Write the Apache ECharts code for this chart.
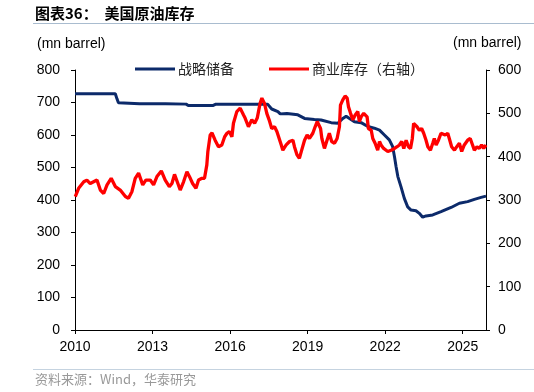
<!DOCTYPE html>
<html>
<head>
<meta charset="utf-8">
<script src="https://cdn.jsdelivr.net/npm/echarts@6/dist/echarts.min.js"></script>
<style>
html,body{margin:0;padding:0;background:#fff;}
#chart{width:534px;height:392px;}
</style>
</head>
<body>
<div id="chart"></div>
<script>
// Category labels / ticks
const xTickYears = [2010, 2013, 2016, 2019, 2022, 2025];
const seriesNames = ['战略储备', '商业库存（右轴）'];

// Strategic petroleum reserve (left axis, mn barrel)
const sprYears = [2010.0, 2011.56, 2011.62, 2011.68, 2011.75, 2012.5, 2013.5, 2014.3, 2014.38, 2015.35, 2015.45, 2016.5, 2017.45, 2017.61, 2017.85, 2017.94,
  2018.2, 2018.62, 2018.88, 2019.26, 2019.52, 2019.91, 2020.17, 2020.36, 2020.49, 2020.62, 2020.81, 2021.07, 2021.33, 2021.58, 2021.78, 2021.97,
  2022.16, 2022.29, 2022.36, 2022.42, 2022.49, 2022.61, 2022.74, 2022.87, 2023.0, 2023.19, 2023.32, 2023.45, 2023.58, 2023.84, 2024.16, 2024.55,
  2024.87, 2025.19, 2025.45, 2025.71, 2025.9];
const sprValues = [727, 727, 712, 699, 697, 696, 696, 695, 691, 691, 695, 695, 695, 680, 672, 665,
  666, 662, 651, 648, 646, 638, 636, 651, 658, 651, 641, 638, 626, 621, 615, 600,
  585, 564, 533, 503, 472, 441, 405, 379, 369, 367, 359, 347, 351, 354, 364, 377,
  390, 395, 402, 408, 412];

// Commercial crude inventory (right axis, mn barrel)
const comYears = [2010.01, 2010.14, 2010.34, 2010.46, 2010.59, 2010.72, 2010.85, 2010.98, 2011.11, 2011.24, 2011.40, 2011.56, 2011.75, 2011.95,
  2012.07, 2012.20, 2012.33, 2012.46, 2012.62, 2012.74, 2012.91, 2013.04, 2013.17, 2013.34, 2013.49, 2013.65, 2013.75, 2013.85, 2013.98,
  2014.07, 2014.20, 2014.33, 2014.46, 2014.55, 2014.68, 2014.78, 2014.91, 2015.01, 2015.10, 2015.14, 2015.23, 2015.30, 2015.42, 2015.55,
  2015.68, 2015.79, 2015.88, 2015.97, 2016.07, 2016.13, 2016.26, 2016.39, 2016.52, 2016.58, 2016.71, 2016.84, 2016.95, 2017.05, 2017.16,
  2017.23, 2017.33, 2017.42, 2017.51, 2017.61, 2017.72, 2017.81, 2017.87, 2017.98, 2018.04, 2018.17, 2018.30, 2018.43, 2018.49, 2018.59,
  2018.68, 2018.77, 2018.88, 2018.98, 2019.07, 2019.20, 2019.29, 2019.37, 2019.42, 2019.50, 2019.55, 2019.65, 2019.75, 2019.84, 2019.93,
  2020.04, 2020.14, 2020.23, 2020.27, 2020.36, 2020.45, 2020.53, 2020.58, 2020.66, 2020.75, 2020.84, 2020.94, 2021.00, 2021.07, 2021.17,
  2021.22, 2021.30, 2021.35, 2021.46, 2021.52, 2021.61, 2021.71, 2021.78, 2021.84, 2021.94, 2022.10, 2022.23, 2022.36, 2022.46, 2022.55,
  2022.64, 2022.72, 2022.81, 2022.90, 2022.98, 2023.05, 2023.10, 2023.17, 2023.23, 2023.32, 2023.41, 2023.49, 2023.58, 2023.65, 2023.75,
  2023.84, 2023.90, 2023.97, 2024.06, 2024.16, 2024.23, 2024.32, 2024.42, 2024.48, 2024.57, 2024.68, 2024.77, 2024.87, 2024.96, 2025.06,
  2025.19, 2025.29, 2025.38, 2025.45, 2025.55, 2025.64, 2025.73, 2025.81, 2025.90];
const comValues = [308, 327, 342, 346, 338, 342, 346, 323, 315, 335, 350, 331, 323, 308,
  304, 319, 350, 362, 335, 346, 346, 335, 354, 367, 346, 331, 338, 359, 338,
  323, 342, 365, 350, 338, 327, 346, 350, 350, 381, 412, 450, 455, 438, 423,
  427, 446, 454, 458, 446, 477, 504, 512, 496, 489, 469, 485, 477, 489, 523,
  535, 523, 500, 485, 465, 469, 458, 454, 427, 415, 427, 435, 438, 423, 404,
  396, 415, 438, 450, 442, 454, 469, 481, 485, 465, 442, 419, 438, 454, 435,
  431, 442, 469, 519, 531, 540, 535, 515, 500, 485, 496, 504, 481, 492, 500,
  504, 492, 465, 461, 442, 431, 415, 435, 427, 419, 412, 415, 419, 423, 427,
  435, 419, 438, 423, 419, 442, 477, 481, 469, 461, 465, 454, 438, 423, 415,
  431, 442, 427, 438, 454, 458, 450, 454, 442, 423, 415, 423, 431, 412, 427,
  438, 442, 427, 415, 423, 419, 427, 419, 427];

const sprData = sprYears.map((x, i) => [x, sprValues[i]]);
const comData = comYears.map((x, i) => [x, comValues[i]]);

const chart = echarts.init(document.getElementById('chart'), null, {renderer: 'canvas'});
const axisFont = {fontFamily: 'Liberation Sans, Arial, sans-serif', fontSize: 14, color: '#000'};
const cjk = 'Noto Sans CJK SC, sans-serif';

chart.setOption({
  animation: false,
  backgroundColor: '#fff',
  grid: {left: 75, right: 48, top: 70, bottom: 62, containLabel: false},
  legend: {
    data: seriesNames,
    left: 130,
    top: 57,
    icon: 'rect',
    itemWidth: 40,
    itemHeight: 3,
    itemGap: 35,
    textStyle: {fontFamily: cjk, fontSize: 14, color: '#222', padding: [0, 0, 0, -2]}
  },
  xAxis: {
    type: 'value',
    min: 2010,
    max: 2025.9,
    interval: 3,
    splitLine: {show: false},
    axisLine: {show: true, lineStyle: {color: '#000', width: 1}},
    axisTick: {show: true, inside: false, length: 4, lineStyle: {color: '#000'}, customValues: xTickYears},
    axisLabel: Object.assign({margin: 10, customValues: xTickYears, formatter: v => String(Math.round(v))}, axisFont)
  },
  yAxis: [
    {
      type: 'value', min: 0, max: 800, interval: 100, position: 'left',
      splitLine: {show: false},
      axisLine: {show: true, lineStyle: {color: '#000', width: 1}},
      axisTick: {show: true, inside: false, length: 4, lineStyle: {color: '#000'}},
      axisLabel: Object.assign({margin: 15}, axisFont)
    },
    {
      type: 'value', min: 0, max: 600, interval: 100, position: 'right',
      splitLine: {show: false},
      axisLine: {show: true, lineStyle: {color: '#000', width: 1}},
      axisTick: {show: true, inside: false, length: 4, lineStyle: {color: '#000'}},
      axisLabel: Object.assign({margin: 12}, axisFont)
    }
  ],
  series: [
    {
      name: seriesNames[0], type: 'line', yAxisIndex: 0, data: sprData,
      showSymbol: false, symbol: 'none', z: 2,
      itemStyle: {color: '#0c2a6a'},
      lineStyle: {color: '#0c2a6a', width: 3}
    },
    {
      name: seriesNames[1], type: 'line', yAxisIndex: 1, data: comData,
      showSymbol: false, symbol: 'none', z: 3,
      itemStyle: {color: '#ff0000'},
      lineStyle: {color: '#ff0000', width: 3.3}
    }
  ],
  graphic: [
    {type: 'text', left: 35, top: 6, style: {text: '图表36：  美国原油库存', fontFamily: cjk, fontWeight: 'bold', fontSize: 15, fill: '#000'}},
    {type: 'line', shape: {x1: 33, y1: 23.5, x2: 534, y2: 23.5}, style: {stroke: '#a9bccf', lineWidth: 1}},
    {type: 'text', left: 37, top: 37, style: {text: '(mn barrel)', fontFamily: 'Liberation Sans, Arial, sans-serif', fontSize: 14, fill: '#000'}},
    {type: 'text', left: 453, top: 36, style: {text: '(mn barrel)', fontFamily: 'Liberation Sans, Arial, sans-serif', fontSize: 14, fill: '#000'}},
    {type: 'line', shape: {x1: 33, y1: 369.5, x2: 534, y2: 369.5}, style: {stroke: '#c5d3e0', lineWidth: 1}},
    {type: 'text', left: 35, top: 373, style: {text: '资料来源：Wind，华泰研究', fontFamily: cjk, fontSize: 13, fill: '#999'}}
  ]
});
</script>
</body>
</html>
